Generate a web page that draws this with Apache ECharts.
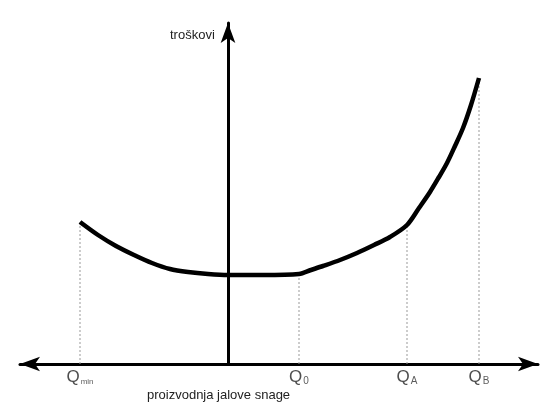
<!DOCTYPE html>
<html>
<head>
<meta charset="utf-8">
<script src="https://cdn.jsdelivr.net/npm/echarts@6/dist/echarts.min.js"></script>
<style>
  html, body { margin: 0; padding: 0; background: #fff; }
  #chart { width: 548px; height: 404px; }
</style>
</head>
<body>
<div id="chart"></div>
<script>
// cost curve (x: reactive power, 0 at the cost axis; y: cost)
const curveX = [-148, -130, -112, -94, -76, -58, -40, -20, 0, 35, 71, 83, 95, 112, 129, 146, 162, 179, 191, 202, 211, 219, 227, 235, 243, 251]
const curveY = [142, 129, 118, 109, 101, 95, 92, 90, 89, 89, 90, 94, 98, 104, 111, 119, 127, 139, 156, 172, 187, 201, 218, 236, 259, 286]

// marked points on the production axis
const qSubs = ['min', '0', 'A', 'B']
const qX = [-148, 71, 179, 251]
const qTop = [142, 90, 139, 286]

const yTitle = 'troškovi'
const xTitle = 'proizvodnja jalove snage'

const font = '"Liberation Sans", Arial, sans-serif'

const series = []

// dotted drop lines
qX.forEach((x, i) => {
  series.push({
    type: 'line',
    data: [[x, 0], [x, qTop[i]]],
    symbol: 'none',
    silent: true,
    lineStyle: { color: '#9a9a9a', width: 1, type: [2, 2] },
    z: 1
  })
})

// the curve
series.push({
  type: 'line',
  data: curveX.map((x, i) => [x, curveY[i]]),
  smooth: 0.3,
  symbol: 'none',
  lineStyle: { color: '#000', width: 4.5 },
  z: 3
})

// Q labels under the axis
series.push({
  type: 'scatter',
  symbolSize: 0,
  data: qX.map((x, i) => ({ name: qSubs[i], value: [x, 0] })),
  label: {
    show: true,
    position: 'bottom',
    distance: 5,
    formatter: p => '{q|Q}{' + (p.name === 'min' ? 'm' : 's') + '|' + p.name + '}',
    rich: {
      q: { fontFamily: font, fontSize: 17, color: '#222', verticalAlign: 'bottom' },
      s: { fontFamily: font, fontSize: 10, color: '#333', verticalAlign: 'bottom', padding: [0, 0, 0, 1] },
      m: { fontFamily: font, fontSize: 8, color: '#333', verticalAlign: 'bottom', padding: [0, 0, 0, 1] }
    }
  },
  z: 4
})

const myChart = echarts.init(document.getElementById('chart'))
myChart.setOption({
  animation: false,
  grid: { left: 20, right: 10, top: 23, bottom: 40 },
  xAxis: {
    type: 'value',
    min: -208,
    max: 310,
    axisLine: {
      show: true,
      onZero: true,
      symbol: ['arrow', 'arrow'],
      symbolSize: [11, 20],
      lineStyle: { color: '#000', width: 3 }
    },
    axisTick: { show: false },
    axisLabel: { show: false },
    splitLine: { show: false }
  },
  yAxis: {
    type: 'value',
    min: 0,
    max: 341,
    axisLine: {
      show: true,
      onZero: true,
      symbol: ['none', 'arrow'],
      symbolSize: [11, 20],
      lineStyle: { color: '#000', width: 3 }
    },
    axisTick: { show: false },
    axisLabel: { show: false },
    splitLine: { show: false }
  },
  graphic: [
    {
      type: 'text',
      left: 170,
      top: 29,
      style: { text: yTitle, font: '13px ' + font, fill: '#222' }
    },
    {
      type: 'text',
      left: 147,
      top: 389,
      style: { text: xTitle, font: '13px ' + font, fill: '#222' }
    }
  ],
  series: series
})
</script>
</body>
</html>
